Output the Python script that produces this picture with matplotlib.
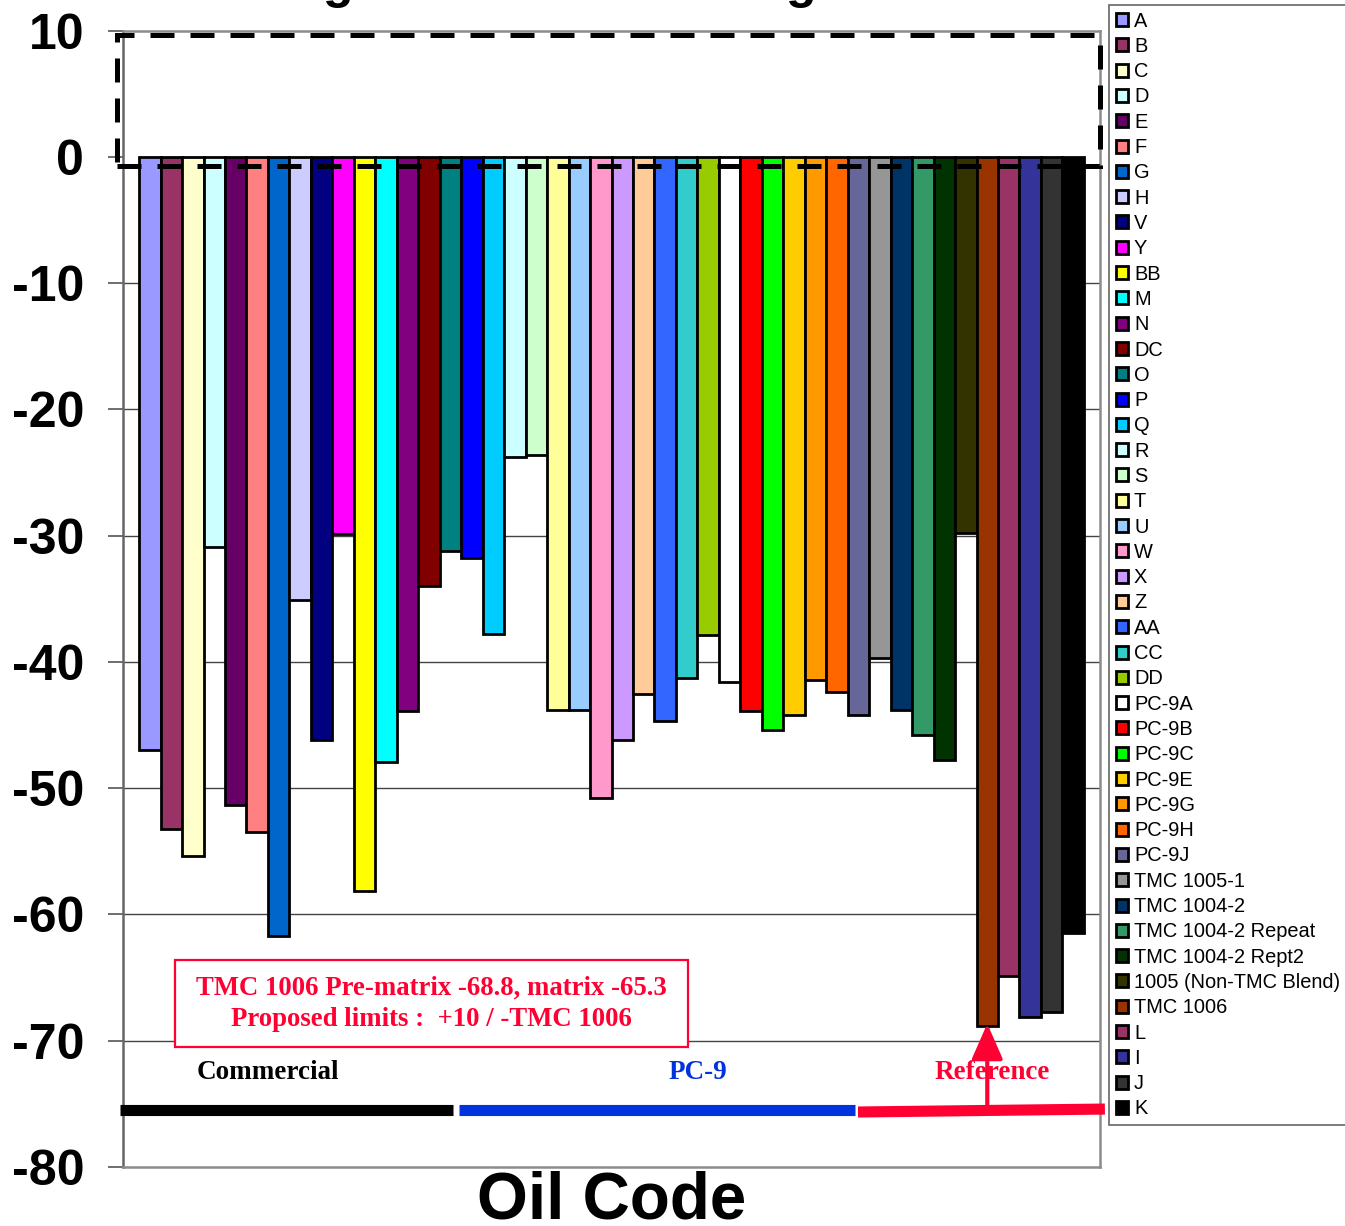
"""Oil code bar chart: change per oil with Commercial / PC-9 / Reference groups."""

from __future__ import annotations

import matplotlib

matplotlib.use("Agg")
import matplotlib.pyplot as plt
from matplotlib.lines import Line2D
from matplotlib.patches import Patch, Rectangle
from matplotlib.transforms import blended_transform_factory


OIL_CODES = [
    "A", "B", "C", "D", "E", "F", "G", "H", "V", "Y", "BB", "M", "N", "DC",
    "O", "P", "Q", "R", "S", "T", "U", "W", "X", "Z", "AA", "CC", "DD",
    "PC-9A", "PC-9B", "PC-9C", "PC-9E", "PC-9G", "PC-9H", "PC-9J",
    "TMC 1005-1", "TMC 1004-2", "TMC 1004-2 Repeat", "TMC 1004-2 Rept2",
    "1005 (Non-TMC Blend)", "TMC 1006", "L", "I", "J", "K",
]
VALUES = [
    -47.0, -53.2, -55.4, -30.9, -51.3, -53.5, -61.7, -35.1, -46.2, -29.9,
    -58.1, -47.9, -43.9, -34.0, -31.2, -31.8, -37.8, -23.8, -23.6, -43.8,
    -43.8, -50.8, -46.2, -42.5, -44.7, -41.3, -37.9, -41.6, -43.9, -45.4,
    -44.2, -41.4, -42.4, -44.2, -39.7, -43.8, -45.8, -47.8, -29.8, -68.8,
    -64.9, -68.1, -67.7, -61.5,
]
COLORS = [
    "#9999FF", "#993366", "#FFFFCC", "#CCFFFF", "#660066", "#FF8080",
    "#0066CC", "#CCCCFF", "#000080", "#FF00FF", "#FFFF00", "#00FFFF",
    "#800080", "#800000", "#008080", "#0000FF", "#00CCFF", "#CCFFFF",
    "#CCFFCC", "#FFFF99", "#99CCFF", "#FF99CC", "#CC99FF", "#FFCC99",
    "#3366FF", "#33CCCC", "#99CC00", "#FFFFFF", "#FF0000", "#00FF00",
    "#FFCC00", "#FF9900", "#FF6600", "#666699", "#969696", "#003366",
    "#339966", "#003300", "#333300", "#993300", "#993366", "#333399",
    "#333333", "#000000",
]
Y_TICKS = [10, 0, -10, -20, -30, -40, -50, -60, -70, -80]
GROUP_LABELS = ["Commercial", "PC-9", "Reference"]
NOTE_LINES = [
    "TMC 1006 Pre-matrix -68.8, matrix -65.3",
    "Proposed limits :  +10 / -TMC 1006",
]
LIMIT_TOP = 9.66
LIMIT_BOTTOM = -0.7
REFERENCE_CODE = "TMC 1006"

RED = "#FF0033"
BLUE = "#0033DD"
SANS = ["Liberation Sans", "DejaVu Sans"]
SERIF = ["Liberation Serif", "DejaVu Serif"]


def main() -> int:
    plt.rcParams["axes.unicode_minus"] = False
    fig = plt.figure(figsize=(13.45, 12.26), dpi=100)
    ax = fig.add_axes([123 / 1345, 59 / 1226, 977 / 1345, 1136.3 / 1226])

    positions = list(range(len(VALUES)))
    ax.bar(positions, VALUES, width=1.0, color=COLORS, edgecolor="black",
           linewidth=2.0, zorder=3)

    ax.set_xlim(-1.25, len(VALUES) - 1 + 1.25)
    ax.set_ylim(-80, 10)
    ax.set_yticks(Y_TICKS)
    ax.set_yticklabels([str(t) for t in Y_TICKS], fontfamily=SANS,
                       fontweight="bold", fontsize=36)
    ax.set_xticks([])
    ax.tick_params(axis="y", direction="out", length=11, width=1.2,
                   color="#555555", pad=17)
    for y in Y_TICKS[2:-1]:
        ax.axhline(y, color="#444444", linewidth=1.0, zorder=1)
    for spine in ax.spines.values():
        spine.set_color("#8C8C8C")
        spine.set_linewidth(1.8)
    ax.spines["left"].set_color("#666666")

    # dashed proposed limit window (+10 / 0)
    trans = blended_transform_factory(ax.transAxes, ax.transData)
    ax.add_patch(Rectangle((-0.006, LIMIT_BOTTOM), 1.006,
                           LIMIT_TOP - LIMIT_BOTTOM,
                           transform=trans, fill=False, edgecolor="black",
                           linewidth=3.6, linestyle=(0, (4.8, 3.2)),
                           clip_on=False, zorder=4))

    # note box
    ax.add_patch(Rectangle((0.0532, 0.1056), 0.5251, 0.0766,
                           transform=ax.transAxes, fill=True, facecolor="white",
                           edgecolor=RED, linewidth=1.6, zorder=5))
    for line, fy in zip(NOTE_LINES, [0.1575, 0.1294]):
        ax.text(0.3158, fy, line, transform=ax.transAxes, ha="center",
                va="center", color=RED, fontfamily=SERIF, fontweight="bold",
                fontsize=19.3, zorder=6)

    # group labels and bars under them
    for label, fx, color in zip(GROUP_LABELS, [0.1479, 0.588, 0.890],
                                ["black", BLUE, RED]):
        ax.text(fx, 0.0836, label, transform=ax.transAxes, ha="center",
                va="center", color=color, fontfamily=SERIF,
                fontweight="bold", fontsize=19.5, zorder=6)
    spans = [((-0.0031, 0.3378), (0.0502, 0.0502), "black"),
             ((0.3439, 0.7492), (0.0502, 0.0502), BLUE),
             ((0.7523, 1.005), (0.0484, 0.0510), RED)]
    for xs, ys, color in spans:
        ax.add_line(Line2D(xs, ys, transform=ax.transAxes, color=color,
                           linewidth=8, solid_capstyle="butt",
                           clip_on=False, zorder=5))

    ref_x = OIL_CODES.index(REFERENCE_CODE)
    ax.annotate("", xy=(ref_x, 0.1262), xytext=(ref_x, 0.050),
                xycoords=("data", "axes fraction"),
                textcoords=("data", "axes fraction"),
                arrowprops=dict(arrowstyle="-|>,head_length=0.73,head_width=0.32",
                                mutation_scale=30, color=RED, lw=3,
                                shrinkA=0, shrinkB=0),
                zorder=6)

    ax.text(0.5, -0.0450, "Oil Code", transform=ax.transAxes, ha="center",
            va="baseline", fontfamily=SANS, fontweight="bold", fontsize=47.2)

    # title sits above the canvas; only its descenders show
    for fx in [338 / 1345, 801 / 1345]:
        fig.text(fx, 1.002, "g", ha="center", va="baseline",
                 fontfamily=SANS, fontweight="bold", fontsize=36)

    handles = [Patch(facecolor=c, edgecolor="black", linewidth=2.0)
               for c in COLORS]
    legend = fig.legend(handles, OIL_CODES, loc="upper left",
                        bbox_to_anchor=(1109 / 1345, 1 - 5 / 1226),
                        bbox_transform=fig.transFigure, borderaxespad=0,
                        borderpad=0.33, handlelength=0.62, handleheight=0.62,
                        handletextpad=0.3, labelspacing=0.315,
                        prop={"family": SANS, "size": 14.4},
                        fancybox=False, framealpha=1)
    legend.get_frame().set_edgecolor("#666666")
    legend.get_frame().set_linewidth(1.2)

    fig.savefig("out.png", dpi=100)
    plt.close(fig)
    return 0


if __name__ == "__main__":
    raise SystemExit(main())
